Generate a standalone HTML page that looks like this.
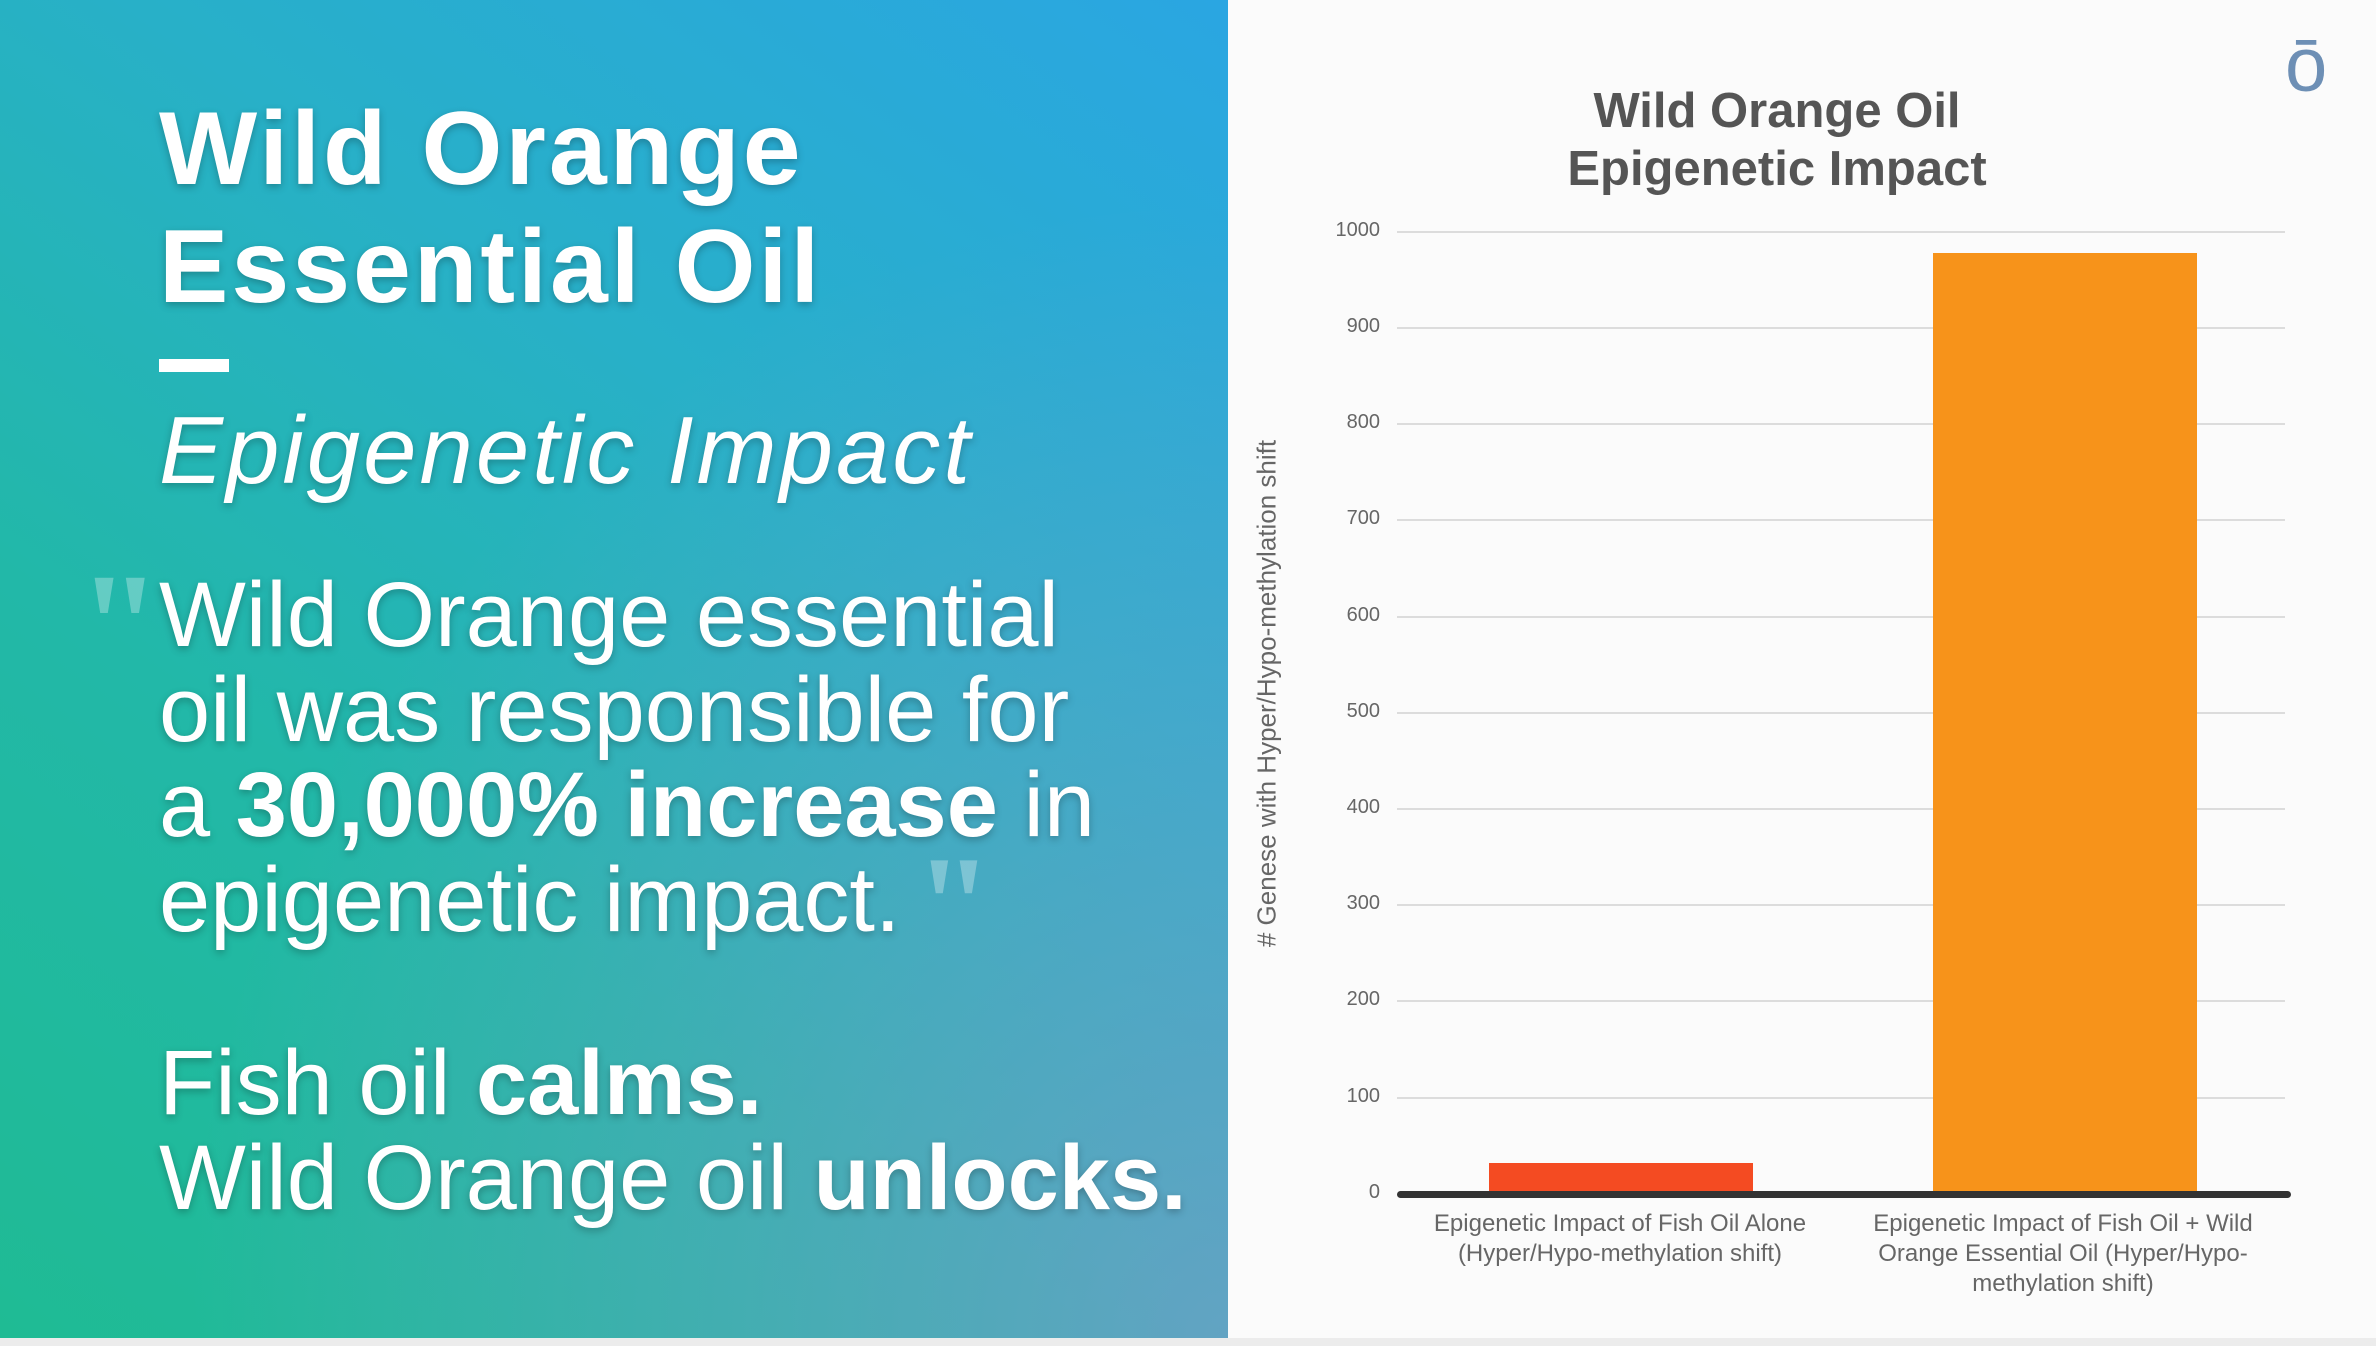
<!DOCTYPE html>
<html><head><meta charset="utf-8"><style>
*{margin:0;padding:0;box-sizing:border-box}
body{width:2376px;height:1346px;overflow:hidden;background:#fbfbfb;font-family:"Liberation Sans",sans-serif;position:relative}
#left{position:absolute;left:0;top:0;width:1228px;height:1338px;
background:linear-gradient(215deg,#2aa6e2 0%,#28b0c8 35%,#22b8a8 65%,#1fbb94 100%);overflow:hidden}
#left .ov{position:absolute;inset:0;background:radial-gradient(ellipse at 100% 100%,rgba(140,150,210,0.6) 0%,rgba(140,150,210,0) 60%)}
.t{position:absolute;left:159px;color:#fff;white-space:nowrap;text-shadow:0 3px 8px rgba(0,0,0,0.25)}
.h{font-weight:bold;font-size:104px;letter-spacing:3px}
.q{font-size:92px;line-height:95px}
.txt{position:absolute;color:#666;white-space:nowrap}
.grid{position:absolute;left:1397px;width:888px;height:2px;background:#dcdcdc}
.tick{position:absolute;left:1320px;width:60px;text-align:right;font-size:20px;color:#666}
</style></head><body>
<div id="left"><div class="ov"></div>
<div class="t h" style="top:90px">Wild Orange</div>
<div class="t h" style="top:208px">Essential Oil</div>
<div style="position:absolute;left:159px;top:359px;width:70px;height:13px;background:#fff"></div>
<div class="t" style="top:396px;font-size:96px;letter-spacing:3px;font-style:italic;font-weight:300">Epigenetic Impact</div>
<div style="position:absolute;left:78px;top:540px;font-size:150px;font-weight:bold;color:rgba(255,255,255,0.3);font-family:'Liberation Serif',serif">"</div>
<div style="position:absolute;left:915px;top:825px;font-size:140px;font-weight:bold;color:rgba(255,255,255,0.3);font-family:'Liberation Serif',serif">"</div>
<div class="t q" style="top:568px">Wild Orange essential<br>oil was responsible for<br>a <b>30,000% increase</b> in<br>epigenetic impact.</div>
<div class="t q" style="top:1036px">Fish oil <b>calms.</b><br>Wild Orange oil <b>unlocks.</b></div>
</div>
<div style="position:absolute;left:0;top:1338px;width:2376px;height:8px;background:#ececec"></div>
<div class="txt" style="left:2285px;top:22px;font-size:76px;color:#6d8fb5">ō</div>
<div class="txt" style="left:1477px;top:82px;width:600px;text-align:center;font-weight:bold;font-size:49px;line-height:58px;color:#555">Wild Orange Oil<br>Epigenetic Impact</div>
<div class="grid" style="top:231px"></div>
<div class="grid" style="top:327px"></div>
<div class="grid" style="top:423px"></div>
<div class="grid" style="top:519px"></div>
<div class="grid" style="top:616px"></div>
<div class="grid" style="top:712px"></div>
<div class="grid" style="top:808px"></div>
<div class="grid" style="top:904px"></div>
<div class="grid" style="top:1000px"></div>
<div class="grid" style="top:1097px"></div>
<div class="tick" style="top:219px">1000</div>
<div class="tick" style="top:315px">900</div>
<div class="tick" style="top:411px">800</div>
<div class="tick" style="top:507px">700</div>
<div class="tick" style="top:604px">600</div>
<div class="tick" style="top:700px">500</div>
<div class="tick" style="top:796px">400</div>
<div class="tick" style="top:892px">300</div>
<div class="tick" style="top:988px">200</div>
<div class="tick" style="top:1085px">100</div>
<div class="tick" style="top:1181px">0</div>
<div style="position:absolute;left:1489px;top:1163px;width:264px;height:31px;background:#f44b22"></div>
<div style="position:absolute;left:1933px;top:253px;width:264px;height:941px;background:#f7931a"></div>
<div style="position:absolute;left:1397px;top:1191px;width:894px;height:7px;border-radius:4px;background:#333"></div>
<div class="txt" style="left:947px;top:678px;width:640px;text-align:center;font-size:26px;transform:rotate(-90deg)"># Genese with Hyper/Hypo-methylation shift</div>
<div class="txt" style="left:1400px;top:1209px;width:440px;text-align:center;font-size:24px;line-height:30px">Epigenetic Impact of Fish Oil Alone<br>(Hyper/Hypo-methylation shift)</div>
<div class="txt" style="left:1843px;top:1209px;width:440px;text-align:center;font-size:24px;line-height:30px">Epigenetic Impact of Fish Oil + Wild<br>Orange Essential Oil (Hyper/Hypo-<br>methylation shift)</div>
</body></html>
